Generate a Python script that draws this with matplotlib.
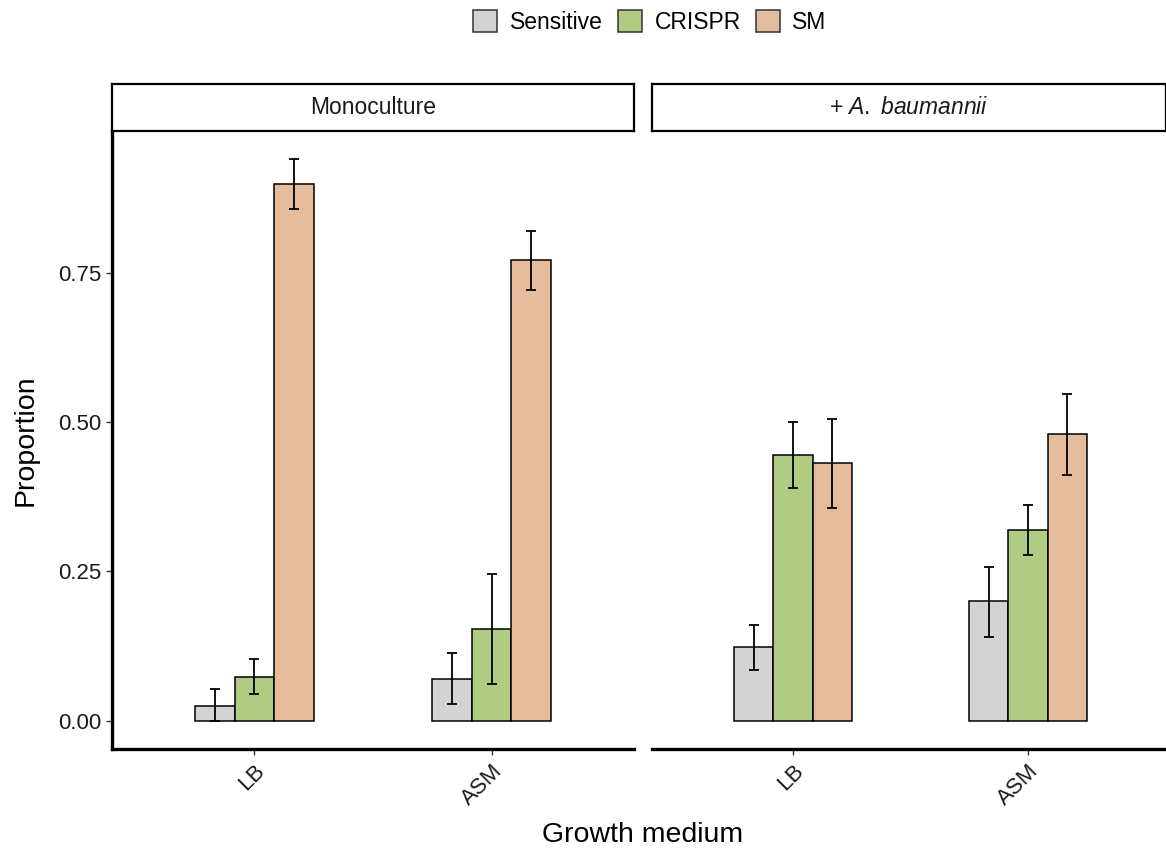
import matplotlib.pyplot as plt
import numpy as np
from matplotlib.patches import Patch

plt.rcParams['font.family'] = ['Liberation Sans', 'DejaVu Sans']
plt.rcParams['mathtext.fontset'] = 'custom'
plt.rcParams['mathtext.rm'] = 'Liberation Sans'
plt.rcParams['mathtext.it'] = 'Liberation Sans:italic'

# medias e limites dos intervalos (proporcao) por painel
media = ["LB", "ASM"]
cepas = ["Sensitive", "CRISPR", "SM"]
cores = ["#D3D3D3", "#B0CB82", "#E5BC9C"]

mono_prop = [[0.025, 0.070],   # Sensitive (LB, ASM)
             [0.074, 0.154],   # CRISPR
             [0.898, 0.772]]   # SM
mono_low = [[0.000, 0.029],
            [0.045, 0.062],
            [0.856, 0.721]]
mono_high = [[0.054, 0.114],
             [0.104, 0.245],
             [0.940, 0.820]]

ab_prop = [[0.124, 0.200],
           [0.445, 0.319],
           [0.431, 0.480]]
ab_low = [[0.086, 0.141],
          [0.389, 0.277],
          [0.356, 0.411]]
ab_high = [[0.161, 0.258],
           [0.500, 0.361],
           [0.505, 0.547]]

W, H = 1166, 850
fig = plt.figure(figsize=(W / 100, H / 100), dpi=100)


def px_axes(x0, y_top, w, h):
    return fig.add_axes([x0 / W, 1 - (y_top + h) / H, w / W, h / H])


def painel(ax, prop, low, high, mostrar_y):
    x = np.arange(1, len(media) + 1)
    larg = 0.5 / len(cepas)
    for i, (nome, cor) in enumerate(zip(cepas, cores)):
        pos = x + (i - 1) * larg
        p = np.array(prop[i])
        lo = p - np.array(low[i])
        hi = np.array(high[i]) - p
        ax.bar(pos, p, width=larg, color=cor, edgecolor="black", linewidth=1.1, zorder=2)
        ax.errorbar(pos, p, yerr=[lo, hi], fmt="none", ecolor="black",
                    elinewidth=1.3, capsize=3.6, capthick=1.3, zorder=3)
    ax.set_xlim(0.4, 2.6)
    ax.set_ylim(-0.047, 0.987)
    ax.set_xticks(x)
    ax.set_xticklabels(media, rotation=45, ha="right", va="top", rotation_mode="anchor",
                       fontsize=16, color="#1a1a1a")
    for s in ["top", "right"]:
        ax.spines[s].set_visible(False)
    ax.spines["bottom"].set_linewidth(2.4)
    ax.tick_params(axis="x", length=4.5, width=1, pad=4, color="#333333")
    if mostrar_y:
        ax.spines["left"].set_linewidth(2.4)
        ax.set_yticks([0, 0.25, 0.5, 0.75])
        ax.set_yticklabels(["0.00", "0.25", "0.50", "0.75"], fontsize=16, color="#1a1a1a")
        ax.tick_params(axis="y", length=4.5, width=1, pad=3, color="#333333")
        ax.set_ylabel("Proportion", fontsize=20.5, labelpad=14)
    else:
        ax.spines["left"].set_visible(False)
        ax.set_yticks([])


def faixa(x0, w, texto):
    s = px_axes(x0, 84, w, 47)
    s.set_xticks([])
    s.set_yticks([])
    for sp in s.spines.values():
        sp.set_linewidth(1.6)
    s.text(0.5, 0.5, texto, ha="center", va="center", fontsize=16.5,
           color="#1a1a1a", transform=s.transAxes)


ax1 = px_axes(112, 131, 522, 618)
ax2 = px_axes(652, 131, 517, 618)
painel(ax1, mono_prop, mono_low, mono_high, True)
painel(ax2, ab_prop, ab_low, ab_high, False)

faixa(112, 522, "Monoculture")
faixa(652, 514, r"+ $\it{A.}$ $\it{baumannii}$")

fig.text(643 / W, 1 - 835 / H, "Growth medium", ha="center", va="center", fontsize=20.5)

handles = [Patch(facecolor=c, edgecolor="#333333", linewidth=1.1, label=n) for n, c in zip(cepas, cores)]
fig.legend(handles=handles, loc="center", bbox_to_anchor=(650 / W, 1 - 22 / H), ncol=3,
           frameon=False, fontsize=16.5, handlelength=1.05, handleheight=1.05,
           handletextpad=0.55, columnspacing=0.65)

fig.savefig("out.png", dpi=100)
